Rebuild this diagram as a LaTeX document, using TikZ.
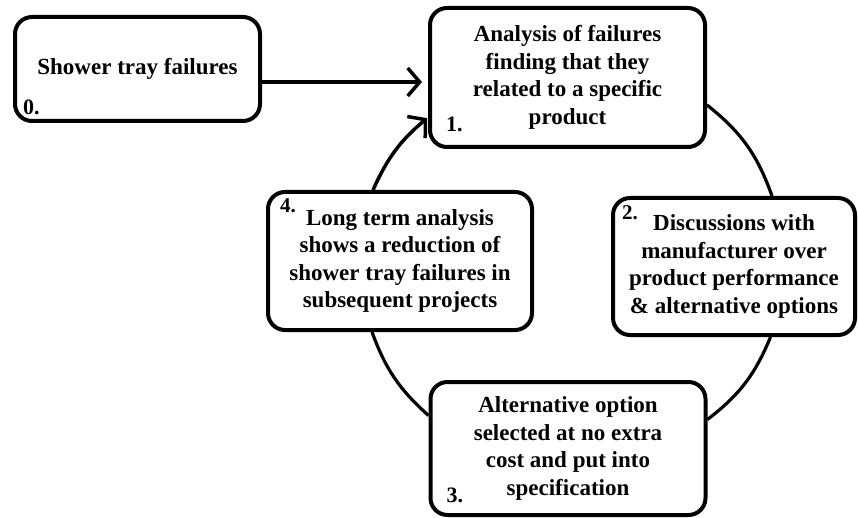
\documentclass[tikz,border=0pt]{standalone}
\usepackage{fontspec}
\setmainfont{Liberation Serif}
\usetikzlibrary{arrows.meta,positioning,calc}
\begin{document}
\begin{tikzpicture}[x=1pt, y=-1pt, font=\fontsize{23}{27.5}\selectfont\bfseries, every node/.style={inner sep=0pt}]
    \tikzset{
        box/.style={draw, line width=4pt, rounded corners=17pt, align=center},
        num/.style={anchor=base west, font=\fontsize{22}{22}\selectfont\bfseries},
        arr/.style={-{Straight Barb[length=12pt, width=28pt]}, line width=3.5pt},
        link/.style={line width=3.2pt}
    }
    \useasboundingbox (0,0) rectangle (858,518);
    % boxes
    \node[box, minimum width=245pt, minimum height=104pt] (fail) at (137.5,69) {Shower tray failures};
    \node[box, minimum width=275pt, minimum height=139pt] (anal) at (567.5,77.5) {Analysis of failures\\finding that they\\related to a specific\\product};
    \node[box, minimum width=242pt, minimum height=137pt] (disc) at (734,266.5) {Discussions with\\manufacturer over\\product performance\\\& alternative options};
    \node[box, minimum width=275pt, minimum height=133pt] (alt) at (568,448.5) {Alternative option\\selected at no extra\\cost and put into\\specification};
    \node[box, minimum width=264pt, minimum height=138pt] (long) at (400,261) {Long term analysis\\shows a reduction of\\shower tray failures in\\subsequent projects};
    % numbers
    \node[num] (n0) at ([xshift=10pt, yshift=8pt]fail.south west) {0.};
    \node[num] (n1) at ([xshift=18pt, yshift=17pt]anal.south west) {1.};
    \node[num, font=\fontsize{21}{21}\selectfont\bfseries] (n2) at ([xshift=11pt, yshift=-24pt]disc.north west) {2.};
    \node[num] (n3) at ([xshift=18pt, yshift=15pt]alt.south west) {3.};
    \node[num, font=\fontsize{21}{21}\selectfont\bfseries] (n4) at ([xshift=14pt, yshift=-23pt]long.north west) {4.};
    % cycle
    \draw[link] ([yshift=-27.5pt]anal.east) to[bend left=16] ([xshift=38pt]disc.north);
    \draw[link] ([xshift=36.5pt]disc.south) to[bend left=15] ([yshift=29pt]alt.east);
    \draw[link] ([yshift=33pt]alt.west) to[bend left=14] ([xshift=-28pt]long.south);
    \draw[arr, shorten >=1pt] ([xshift=-27pt]long.north) to[bend left=13] ([yshift=-40pt]anal.west);
    \draw[arr, shorten >=6pt] ([yshift=-13pt]fail.east) -- ([yshift=-13pt]fail.east -| anal.west);
\end{tikzpicture}
\end{document}
